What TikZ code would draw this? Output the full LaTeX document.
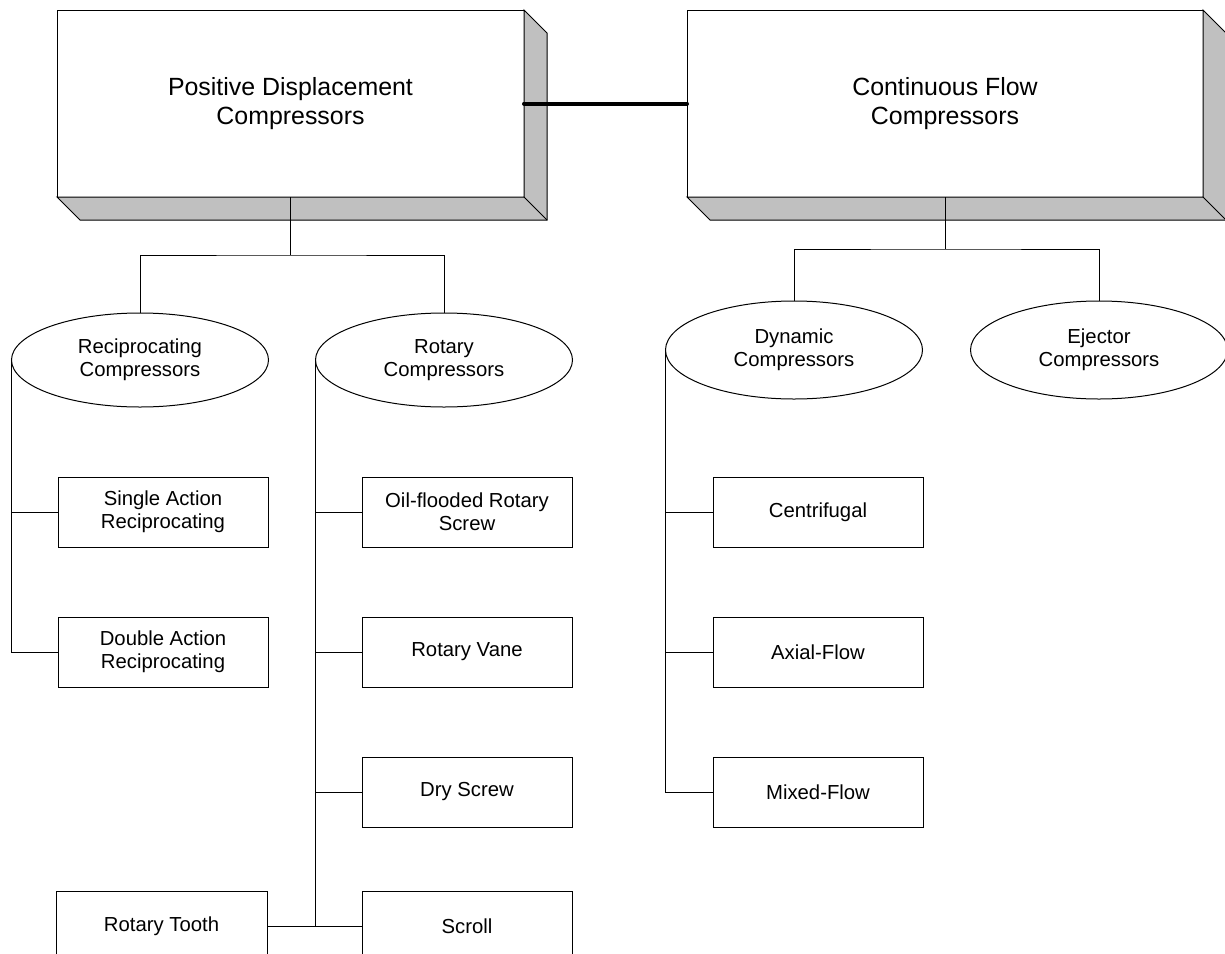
\documentclass[tikz,border=0pt]{standalone}
\usepackage{fontspec}
\setmainfont{Liberation Sans}
\usetikzlibrary{shapes.geometric}
\definecolor{facegray}{HTML}{C0C0C0}
\tikzset{
	bigbox/.style={draw, fill=white, minimum width=#1, minimum height=187pt, inner sep=0pt, outer sep=0pt, align=center, font=\fontsize{24.9}{28.7}\selectfont},
	oval/.style={ellipse, draw, fill=white, minimum width=257pt, minimum height=#1, inner sep=0pt, outer sep=0pt, align=center, font=\fontsize{20.3}{23.3}\selectfont},
	leaf/.style={draw, fill=white, minimum width=210pt, minimum height=70pt, inner sep=0pt, outer sep=0pt, align=center, font=\fontsize{20.3}{23.3}\selectfont},
	side/.style={draw, fill=facegray}
}
% shaded right and bottom faces of a front box
\newcommand{\shadebox}[1]{
	\filldraw[side] (#1.north east) -- ++(23,23) -- ([shift={(23,23)}]#1.south east) -- ([shift={(23,23)}]#1.south west) -- (#1.south west) -- (#1.south east) -- cycle;
	\draw (#1.south east) -- ++(23,23);
}
\begin{document}
\begin{tikzpicture}[x=1pt, y=-1pt, line width=1pt]
		\useasboundingbox (0,0) rectangle (1225,953);
		% top level
		\node [bigbox=467pt] (pd) at (290.5,103.5) {Positive Displacement\\Compressors};
		\node [bigbox=516pt] (cf) at (945,103.5) {Continuous Flow\\Compressors};
		\shadebox{pd}
		\shadebox{cf}
		\draw [line width=4pt, line cap=round] (pd.east) -- (cf.west);
		% second level
		\node [oval=94pt] (recip) at (140,360) {Reciprocating\\Compressors};
		\node [oval=94pt] (rot) at (444,360) {Rotary\\Compressors};
		\node [oval=98pt] (dyn) at (794,350) {Dynamic\\Compressors};
		\node [oval=98pt] (ejec) at (1099,350) {Ejector\\Compressors};
		\draw (pd.south) -- ++(0,58) coordinate (pdj);
		\draw (recip.north) |- (pdj) -| (rot.north);
		\draw (cf.south) -- ++(0,52) coordinate (cfj);
		\draw (dyn.north) |- (cfj) -| (ejec.north);
		% reciprocating
		\node [leaf] (single) at (163,512) {Single Action\\Reciprocating};
		\node [leaf] (double) at (163,652) {Double Action\\Reciprocating};
		\draw (recip.west) |- (double.west);
		\draw (single.west) -- (single.west -| recip.west);
		% rotary
		\node [leaf] (oil) at (467,512) {Oil-flooded Rotary\\Screw};
		\node [leaf] (vane) at (467,652) {Rotary Vane};
		\node [leaf] (dry) at (467,792) {Dry Screw};
		\node [leaf] (scroll) at (467,926) {Scroll};
		\node [leaf, minimum width=211pt] (tooth) at (161.5,926) {Rotary Tooth};
		\draw (rot.west) -- (rot.west |- scroll.west);
		\foreach \n in {oil,vane,dry}
			\draw (\n.west) -- (\n.west -| rot.west);
		\draw (tooth.east) -- (scroll.west);
		% dynamic
		\node [leaf] (centr) at (818,512) {Centrifugal};
		\node [leaf] (axial) at (818,652) {Axial-Flow};
		\node [leaf] (mixed) at (818,792) {Mixed-Flow};
		\draw (dyn.west) |- (mixed.west);
		\foreach \n in {centr,axial}
			\draw (\n.west) -- (\n.west -| dyn.west);
	\end{tikzpicture}
\end{document}
